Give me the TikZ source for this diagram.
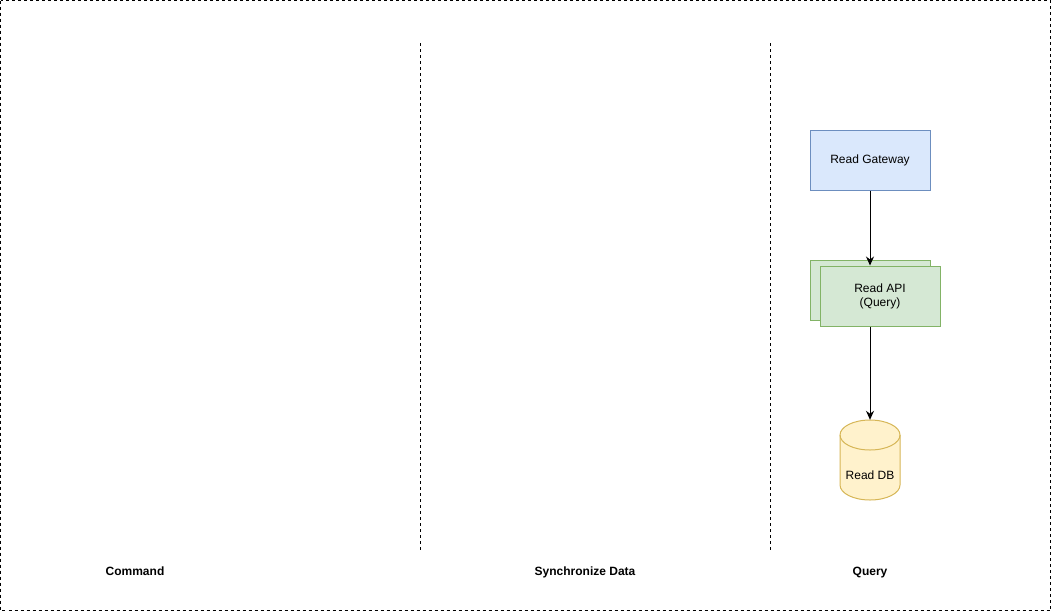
\documentclass[tikz,border=0pt]{standalone}
\usepackage{fontspec}
\setmainfont{Liberation Sans}
\usetikzlibrary{arrows.meta}
\definecolor{bluefill}{HTML}{DAE8FC}
\definecolor{bluedraw}{HTML}{6C8EBF}
\definecolor{greenfill}{HTML}{D5E8D4}
\definecolor{greendraw}{HTML}{82B366}
\definecolor{yellowfill}{HTML}{FFF2CC}
\definecolor{yellowdraw}{HTML}{D6B656}
\tikzset{
  box/.style={draw, line width=1pt, minimum width=120pt, minimum height=60pt, inner sep=0pt, align=center, font=\fontsize{12}{14}\selectfont},
  gw/.style={box, fill=bluefill, draw=bluedraw},
  api/.style={box, fill=greenfill, draw=greendraw},
  lane/.style={draw, line width=1pt, dash pattern=on 3pt off 3pt},
  lanelabel/.style={font=\fontsize{12}{14}\selectfont\bfseries, anchor=base},
  conn/.style={draw, line width=1pt, -{Stealth[length=9pt,width=8pt]}},
}
\begin{document}
\begin{tikzpicture}[x=1pt,y=-1pt]
\useasboundingbox (0,0) rectangle (1051,611);
\draw[lane] (0.5,0.5) rectangle (1050.5,610.5);
\coordinate (l1t) at (420,43); \coordinate (l1b) at (420,551);
\coordinate (l2t) at (770,43); \coordinate (l2b) at (770,551);
\draw[lane] (l1t) -- (l1b);
\draw[lane] (l2t) -- (l2b);
\node[lanelabel] (cmd) at (135,575.5) {Command};
\node[lanelabel] (sync) at (585,575.5) {Synchronize Data};
\node[lanelabel] (qry) at (870,575.5) {Query};
\node[gw] (gateway) at (870,160) {\raisebox{-2pt}{Read Gateway}};
\node[api] (apiback) at (870,290) {};
\node[api] (api) at (880,296) {Read API\\(Query)};
% cylinder
\node[minimum width=60pt, minimum height=80pt, inner sep=0pt] (db) at (870,460) {};
\filldraw[fill=yellowfill, draw=yellowdraw, line width=1pt]
  (840,435) -- (840,485) arc[start angle=180, end angle=0, x radius=30, y radius=15]
  -- (900,435) arc[start angle=0, end angle=-180, x radius=30, y radius=15] -- cycle;
\draw[yellowdraw, line width=1pt] (840,435) arc[start angle=180, end angle=0, x radius=30, y radius=15];
\node[font=\fontsize{12}{14}\selectfont] (dblabel) at (870,475) {Read DB};
\path[conn] (gateway.south) -- (gateway.south |- api.north);
\path[conn] (api.south -| gateway.south) -- (db.north);
\end{tikzpicture}
\end{document}
